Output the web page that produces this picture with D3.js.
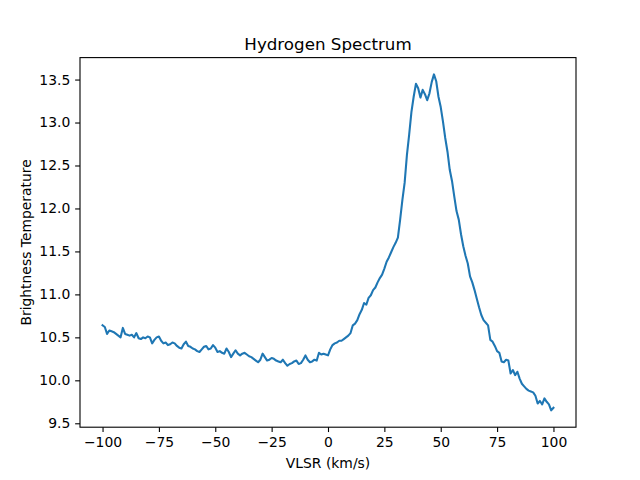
<!DOCTYPE html>
<html>
<head>
<meta charset="utf-8">
<script src="https://cdn.jsdelivr.net/npm/d3@7"></script>
<style>
  body { margin: 0; background: #fff; }
  svg text { font-family: "DejaVu Sans", sans-serif; fill: #000; }
</style>
</head>
<body>
<div id="chart"></div>
<script>
// velocity (km/s), one sample per km/s from -100 to 100
var velocityStart = -100;
var velocityStep = 1;

// brightness temperature
var temperature = [
  10.64, 10.62, 10.54, 10.58, 10.57, 10.56, 10.54, 10.52, 10.50, 10.61,
  10.54, 10.53, 10.52, 10.53, 10.50, 10.55, 10.49, 10.48, 10.50, 10.49,
  10.51, 10.50, 10.43, 10.47, 10.50, 10.51, 10.46, 10.43, 10.44, 10.41,
  10.42, 10.44, 10.43, 10.40, 10.38, 10.37, 10.42, 10.45, 10.40, 10.39,
  10.37, 10.36, 10.34, 10.33, 10.36, 10.39, 10.40, 10.36, 10.37, 10.41,
  10.38,
  10.33, 10.34, 10.32, 10.31, 10.37, 10.33, 10.27, 10.31, 10.35, 10.31,
  10.29, 10.31, 10.32, 10.30, 10.28, 10.27, 10.25, 10.23, 10.21, 10.24,
  10.31, 10.27, 10.23, 10.24, 10.26, 10.25, 10.23, 10.22, 10.21, 10.24,
  10.20, 10.17, 10.19, 10.20, 10.22, 10.23, 10.19, 10.20, 10.24, 10.29,
  10.24, 10.21, 10.22, 10.24, 10.23, 10.32, 10.30, 10.31, 10.30,
  10.29, 10.36, 10.41, 10.43, 10.44, 10.46, 10.46, 10.48, 10.50, 10.52,
  10.55, 10.64, 10.66, 10.70, 10.77, 10.82, 10.90, 10.88, 10.96, 10.99,
  11.05, 11.08, 11.14, 11.19, 11.23, 11.30, 11.38, 11.43, 11.49, 11.55,
  11.60, 11.66, 11.87, 12.10, 12.30, 12.62, 12.86, 13.12, 13.30, 13.45,
  13.40, 13.29, 13.38, 13.33, 13.26, 13.34, 13.47, 13.56, 13.48, 13.30,
  13.18, 13.01, 12.82, 12.66, 12.45, 12.32, 12.14, 11.97, 11.87, 11.70,
  11.56, 11.45, 11.36, 11.21, 11.14, 11.05, 10.95, 10.85, 10.76, 10.70,
  10.67, 10.64, 10.47, 10.45, 10.40, 10.34, 10.32, 10.22, 10.21, 10.24,
  10.23, 10.08, 10.12, 10.06, 10.10, 10.02, 9.96, 9.93, 9.90, 9.88,
  9.87, 9.86, 9.82, 9.73, 9.76, 9.72, 9.79, 9.75, 9.72, 9.65,
  9.68
];

var xTicks = [-100, -75, -50, -25, 0, 25, 50, 75, 100];
var yTicks = [9.5, 10.0, 10.5, 11.0, 11.5, 12.0, 12.5, 13.0, 13.5];

var titleText = "Hydrogen Spectrum";
var xLabel = "VLSR (km/s)";
var yLabel = "Brightness Temperature";

function drawSpectrum(){

	var w = 640;
	var h = 480;
	var left = 80, right = 576, top = 57.6, bottom = 427.2;

	var dataset = temperature.map(function(t, i){
		return { v: velocityStart + i * velocityStep, t: t };
	});

	// matplotlib style 5% margins
	var xext = d3.extent(dataset, function(d){ return d.v; });
	var yext = d3.extent(dataset, function(d){ return d.t; });
	var xpad = (xext[1] - xext[0]) * 0.05;
	var ypad = (yext[1] - yext[0]) * 0.05;

	var xscale = d3.scaleLinear()
		.domain([xext[0] - xpad, xext[1] + xpad])
		.range([left, right]);

	var yscale = d3.scaleLinear()
		.domain([yext[0] - ypad, yext[1] + ypad])
		.range([bottom, top]);

	var svg = d3.select("#chart")
		.append("svg")
		.attr("width", w)
		.attr("height", h);

	var fmtMinus = function(s){ return s.replace("-", "\u2212"); };

	var xaxis = d3.axisBottom(xscale)
		.tickValues(xTicks)
		.tickSize(4.86)
		.tickPadding(4.86)
		.tickFormat(function(d){ return fmtMinus(d3.format("d")(d)); });

	var yaxis = d3.axisLeft(yscale)
		.tickValues(yTicks)
		.tickSize(4.86)
		.tickPadding(4.86)
		.tickFormat(d3.format(".1f"));

	var gX = svg.append("g")
		.attr("transform", "translate(0," + bottom + ")")
		.call(xaxis);

	var gY = svg.append("g")
		.attr("transform", "translate(" + left + ",0)")
		.call(yaxis);

	[gX, gY].forEach(function(g){
		g.select(".domain").remove();
		g.selectAll(".tick line").attr("stroke", "#000").attr("stroke-width", 1.1);
		g.selectAll(".tick text")
			.style("font-family", "'DejaVu Sans', sans-serif")
			.style("font-size", "13.9px")
			.attr("fill", "#000");
	});

	// the spectrum itself
	var line = d3.line()
		.x(function(d){ return xscale(d.v); })
		.y(function(d){ return yscale(d.t); });

	svg.append("path")
		.datum(dataset)
		.attr("d", line)
		.attr("fill", "none")
		.attr("stroke", "#1f77b4")
		.attr("stroke-width", 2.08)
		.attr("stroke-linejoin", "round")
		.attr("stroke-linecap", "square");

	// axes frame
	svg.append("rect")
		.attr("x", left)
		.attr("y", top)
		.attr("width", right - left)
		.attr("height", bottom - top)
		.attr("fill", "none")
		.attr("stroke", "#000")
		.attr("stroke-width", 1.1);

	svg.append("text")
		.attr("x", (left + right) / 2)
		.attr("y", 49.5)
		.style("font-size", "16.7px")
		.style("text-anchor", "middle")
		.text(titleText);

	svg.append("text")
		.attr("x", (left + right) / 2)
		.attr("y", 468)
		.style("font-size", "13.9px")
		.style("text-anchor", "middle")
		.text(xLabel);

	svg.append("text")
		.attr("transform", "translate(31," + ((top + bottom) / 2) + ") rotate(-90)")
		.style("font-size", "13.9px")
		.style("text-anchor", "middle")
		.text(yLabel);
}

drawSpectrum();
</script>
</body>
</html>
